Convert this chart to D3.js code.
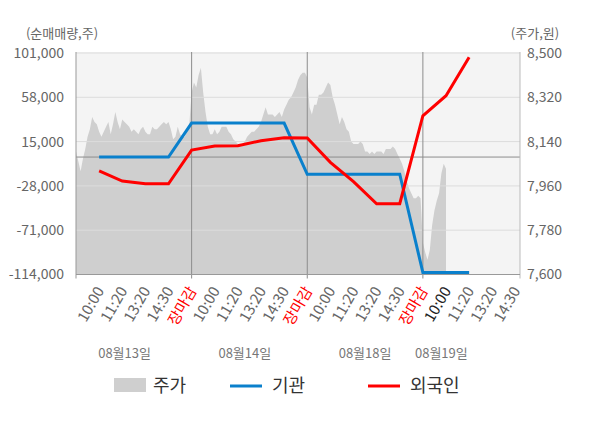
<!DOCTYPE html>
<html>
<head>
<meta charset="utf-8">
<script src="https://cdn.jsdelivr.net/npm/d3@7"></script>
<style>
  body { margin: 0; background: #fff; }
  svg text { font-family: "Noto Sans CJK KR", "Noto Sans", sans-serif; }
</style>
</head>
<body>
<div class="chart"></div>
<script>
// 시간 눈금 (일자별)
const timeLabels = ["10:00", "11:20", "13:20", "14:30", "장마감",
                    "10:00", "11:20", "13:20", "14:30", "장마감",
                    "10:00", "11:20", "13:20", "14:30", "장마감",
                    "10:00", "11:20", "13:20", "14:30"];
const dayLabels = ["08월13일", "08월14일", "08월18일", "08월19일"];

// 순매매량 (주) - 눈금 1..17
const institution = [0, 0, 0, 0, 33000, 33000, 33000, 33000, 33000,
                     -16700, -16700, -16700, -16700, -16700, -112100, -112100, -112100];
const foreign = [-13500, -23300, -25900, -25900, 6800, 10700, 11000, 15900, 18800,
                 18500, -5100, -23900, -45300, -45300, 40100, 59500, 96800];

// 주가 (원) - 0.1 눈금 간격
const price = [
  8100, 8060, 8020, 8070, 8110, 8160, 8190, 8240, 8220, 8210,
  8180, 8160, 8180, 8200, 8220, 8170, 8210, 8260, 8220, 8190,
  8230, 8220, 8210, 8200, 8180, 8190, 8180, 8170, 8190, 8200,
  8180, 8170, 8170, 8200, 8190, 8190, 8200, 8210, 8220, 8210,
  8220, 8190, 8150, 8160, 8200, 8170, 8160, 8160, 8180, 8210,
  8340, 8380, 8360, 8410, 8440, 8340, 8260, 8200, 8170, 8170,
  8190, 8170, 8180, 8200, 8200, 8200, 8180, 8170, 8150, 8140,
  8130, 8130, 8130, 8140, 8160, 8170, 8180, 8180, 8190, 8200,
  8220, 8250, 8280, 8250, 8250, 8250, 8240, 8250, 8260, 8240,
  8270, 8290, 8310, 8320, 8340, 8360, 8390, 8410, 8420, 8420,
  8400, 8280, 8250, 8290, 8290, 8330, 8330, 8340, 8360, 8380,
  8370, 8320, 8290, 8250, 8210, 8240, 8220, 8190, 8180, 8140,
  8130, 8130, 8130, 8140, 8130, 8100, 8100, 8090, 8100, 8090,
  8100, 8100, 8100, 8090, 8110, 8110, 8110, 8120, 8110, 8090,
  8070, 8050, 8020, 7980, 7950, 7930, 7910, 7910, 7920, 7910,
  7730, 7690, 7660, 7700, 7800, 7860, 7900, 7930, 8010, 8050, 8030
];

const volumeTicks = [101000, 58000, 15000, -28000, -71000, -114000];
const priceTicks = [8500, 8320, 8140, 7960, 7780, 7600];

function drawChart() {
    const W = 600, H = 428;
    const left = 76, right = 520, top = 53, bottom = 274.5;

    const svg = d3.select("div.chart").append("svg")
        .attr("width", W)
        .attr("height", H);

    // 스케일
    const x = d3.scaleLinear().domain([0, 19.2]).range([left, right]);
    const yL = d3.scaleLinear().domain([-114000, 101000]).range([bottom, top]);
    const yR = d3.scaleLinear().domain([7600, 8500]).range([bottom, top]);
    const fmt = v => d3.format(",")(v).replace("−", "-");

    // 배경
    svg.append("rect")
        .attr("x", left).attr("y", top - 1)
        .attr("width", right - left).attr("height", bottom - top + 1)
        .attr("fill", "#f4f4f4");

    // 주가 영역
    const area = d3.area()
        .x((d, i) => x(i * 0.1))
        .y0(bottom)
        .y1(d => yR(d));
    svg.append("path")
        .datum(price)
        .attr("d", area)
        .attr("fill", "#cfcfcf");

    // 가로 격자
    svg.append("g").selectAll("line")
        .data(volumeTicks.filter(v => v !== -114000))
        .enter().append("line")
        .attr("x1", left).attr("x2", right)
        .attr("y1", d => yL(d)).attr("y2", d => yL(d))
        .attr("stroke", "#dcdcdc").attr("stroke-width", 1);

    // 0 기준선
    svg.append("line")
        .attr("x1", left).attr("x2", right)
        .attr("y1", yL(0)).attr("y2", yL(0))
        .attr("stroke", "#8c8c8c").attr("stroke-width", 1);

    // 일자 구분선
    const dayBounds = [5, 10, 15];
    svg.append("g").selectAll("line")
        .data(dayBounds)
        .enter().append("line")
        .attr("x1", d => x(d)).attr("x2", d => x(d))
        .attr("y1", top - 1).attr("y2", bottom + 4)
        .attr("stroke", "#8c8c8c").attr("stroke-width", 1);

    // 축선
    svg.append("line")
        .attr("x1", left).attr("x2", left)
        .attr("y1", top - 1).attr("y2", bottom + 4)
        .attr("stroke", "#999").attr("stroke-width", 1);
    svg.append("line")
        .attr("x1", right).attr("x2", right)
        .attr("y1", top - 1).attr("y2", bottom + 4)
        .attr("stroke", "#bbb").attr("stroke-width", 1);
    svg.append("line")
        .attr("x1", left).attr("x2", right)
        .attr("y1", bottom).attr("y2", bottom)
        .attr("stroke", "#999").attr("stroke-width", 1);

    // 기관 / 외국인 선
    const line = d3.line()
        .x((d, i) => x(i + 1))
        .y(d => yL(d));
    svg.append("path")
        .datum(institution)
        .attr("d", line)
        .attr("fill", "none")
        .attr("stroke", "#0a80cc")
        .attr("stroke-width", 3);
    svg.append("path")
        .datum(foreign)
        .attr("d", line)
        .attr("fill", "none")
        .attr("stroke", "#ff0000")
        .attr("stroke-width", 3);

    // 왼쪽 눈금
    svg.append("g").selectAll("text")
        .data(volumeTicks)
        .enter().append("text")
        .attr("x", 64)
        .attr("y", d => yL(d))
        .attr("dy", "0.35em")
        .attr("text-anchor", "end")
        .attr("font-size", 14)
        .attr("fill", "#666")
        .text(d => fmt(d));

    // 오른쪽 눈금
    svg.append("g").selectAll("text")
        .data(priceTicks)
        .enter().append("text")
        .attr("x", 527)
        .attr("y", d => yR(d))
        .attr("dy", "0.35em")
        .attr("text-anchor", "start")
        .attr("font-size", 14)
        .attr("fill", "#666")
        .text(d => fmt(d));

    // 단위
    svg.append("text")
        .attr("x", 62).attr("y", 33)
        .attr("dy", "0.35em")
        .attr("text-anchor", "middle")
        .attr("font-size", 13)
        .attr("fill", "#666")
        .text("(순매매량,주)");
    svg.append("text")
        .attr("x", 535).attr("y", 33)
        .attr("dy", "0.35em")
        .attr("text-anchor", "middle")
        .attr("font-size", 13)
        .attr("fill", "#666")
        .text("(주가,원)");

    // 시간 라벨
    svg.append("g").selectAll("text")
        .data(timeLabels)
        .enter().append("text")
        .attr("transform", (d, i) => `translate(${x(i + 1) + 1},288) rotate(-60)`)
        .attr("dy", "0.35em")
        .attr("text-anchor", "end")
        .attr("font-size", 15)
        .attr("fill", (d, i) => d === "장마감" ? "#ff0000" : (i === 15 ? "#222" : "#666"))
        .text(d => d);

    // 날짜 라벨
    const dayAt = [2.1, 7.3, 12.5, 15.8];
    svg.append("g").selectAll("text")
        .data(dayLabels)
        .enter().append("text")
        .attr("x", (d, i) => x(dayAt[i]))
        .attr("y", 353)
        .attr("dy", "0.35em")
        .attr("text-anchor", "middle")
        .attr("font-size", 13)
        .attr("fill", "#777")
        .text(d => d);

    // 범례
    const lg = svg.append("g");
    lg.append("rect")
        .attr("x", 114).attr("y", 378)
        .attr("width", 32).attr("height", 14)
        .attr("fill", "#cfcfcf");
    lg.append("text").attr("x", 153).attr("y", 386).attr("dy", "0.35em")
        .attr("font-size", 18).attr("fill", "#333").text("주가");
    lg.append("line").attr("x1", 230).attr("x2", 262).attr("y1", 386).attr("y2", 386)
        .attr("stroke", "#0a80cc").attr("stroke-width", 3);
    lg.append("text").attr("x", 272).attr("y", 386).attr("dy", "0.35em")
        .attr("font-size", 18).attr("fill", "#333").text("기관");
    lg.append("line").attr("x1", 368).attr("x2", 400).attr("y1", 386).attr("y2", 386)
        .attr("stroke", "#ff0000").attr("stroke-width", 3);
    lg.append("text").attr("x", 410).attr("y", 386).attr("dy", "0.35em")
        .attr("font-size", 18).attr("fill", "#333").text("외국인");
}

drawChart();
</script>
</body>
</html>
